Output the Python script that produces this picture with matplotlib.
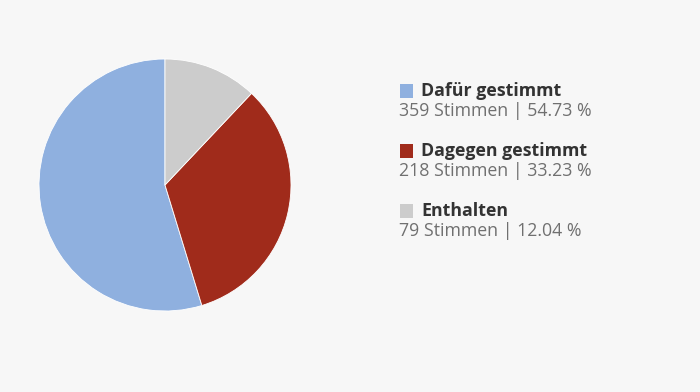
import matplotlib
matplotlib.use("Agg")
import matplotlib.pyplot as plt
from matplotlib.patches import Rectangle

labels = ["Dafür gestimmt", "Dagegen gestimmt", "Enthalten"]
votes = [359, 218, 79]
shares = [54.73, 33.23, 12.04]
colors = ["#8fb0df", "#a02b1b", "#cccccc"]

BG = "#f7f7f7"
W, H = 700, 392

fig = plt.figure(figsize=(W / 100, H / 100), dpi=100, facecolor=BG)

# pie centred at (165, 185) px, radius ~126 px
r = 126
ax = fig.add_axes([(165 - r) / W, 1 - (185 + r) / H, 2 * r / W, 2 * r / H])
ax.set_facecolor(BG)
ax.pie(votes, colors=colors, startangle=90, counterclock=True,
       wedgeprops=dict(linewidth=0.6, edgecolor="white"))
ax.set_xlim(-1, 1); ax.set_ylim(-1, 1)
ax.set_aspect("equal")
ax.axis("off")

# legend, drawn in pixel coordinates
def px(x, y):
    return x / W, 1 - y / H

for i, (lab, v, s, c) in enumerate(zip(labels, votes, shares, colors)):
    y0 = 91 + i * 60
    x0, y0f = px(400, y0 + 7)
    fig.add_artist(Rectangle((x0, y0f), 13 / W, 14 / H, transform=fig.transFigure,
                             facecolor=c, edgecolor="none"))
    fig.text(*px(421, y0), lab, fontsize=12.8, fontweight="bold", color="#333333",
             family="Open Sans", va="center", ha="left")
    fig.text(*px(399, y0 + 20), f"{v} Stimmen | {s:.2f} %", fontsize=12.8,
             color="#707070", family="Open Sans", va="center", ha="left")

fig.savefig("out.png", dpi=100, facecolor=BG)
